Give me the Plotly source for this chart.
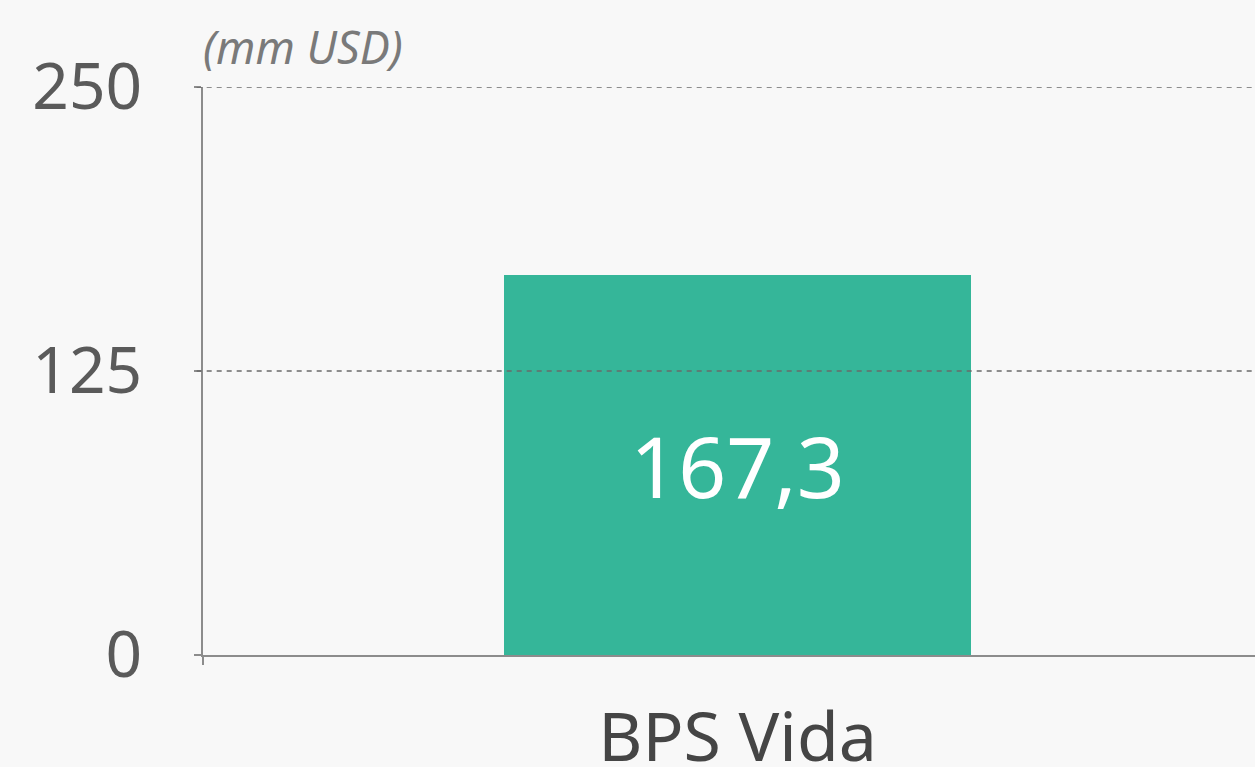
import plotly.graph_objects as go

categories = ["BPS Vida"]
values = [167.3]
y_ticks = [0, 125, 250]
unit_label = "(mm USD)"

FONT = "Noto Sans"
BG = "#f8f8f8"

fig = go.Figure()
fig.add_trace(go.Bar(
    x=categories, y=values,
    width=0.437,
    marker=dict(color="#35b699", line=dict(width=0)),
    texttemplate="%{y:.1f}",
    textposition="inside",
    insidetextanchor="middle",
    textangle=0,
    textfont=dict(family=FONT, size=84, color="white"),
    cliponaxis=False,
))

# dashed gridlines drawn above the bar, from the tick values
for t in y_ticks:
    if t == 0:
        continue
    fig.add_shape(type="line", xref="paper", yref="y", x0=-0.006, x1=1, y0=t, y1=t,
                  line=dict(color="rgba(105,105,105,0.75)", width=2, dash="5px,5px"),
                  layer="above")

fig.add_annotation(text=unit_label, xref="paper", yref="paper", x=0, y=1,
                   xanchor="left", yanchor="bottom", yshift=8, xshift=-2, showarrow=False,
                   font=dict(family=FONT, size=45, color="#7a7a7a", style="italic"))

fig.update_layout(
    width=1255, height=767, autosize=False,
    margin=dict(l=203, r=0, t=87, b=112, autoexpand=False),
    paper_bgcolor=BG, plot_bgcolor=BG,
    separators=",.",
    showlegend=False,
    bargap=0,
    xaxis=dict(
        range=[-0.5, 0.484], showgrid=False, showline=True, linecolor="#8c8c8c", linewidth=2,
        ticks="outside", tickson="boundaries", ticklen=8, tickcolor="#8c8c8c", tickwidth=2,
        tickfont=dict(family=FONT, size=68, color="#454545"), ticklabelstandoff=22,
        automargin=False, fixedrange=True,
    ),
    yaxis=dict(
        range=[0, 250], tickvals=y_ticks, showgrid=False, zeroline=False,
        showline=True, linecolor="#8c8c8c", linewidth=2,
        ticks="outside", ticklen=7, tickcolor="#8c8c8c", tickwidth=2,
        tickfont=dict(family=FONT, size=64, color="#5a5a5a"), ticklabelstandoff=39,
        automargin=False, fixedrange=True,
    ),
)

post = ("document.body.style.margin='0';document.body.style.overflow='hidden';"
        "document.body.style.background='" + BG + "';"
        "var gd=document.getElementById('{plot_id}');"
        "Plotly.relayout(gd,{width:1255,height:767});")

fig.write_html("out.html", post_script=post, config={"displayModeBar": False})
